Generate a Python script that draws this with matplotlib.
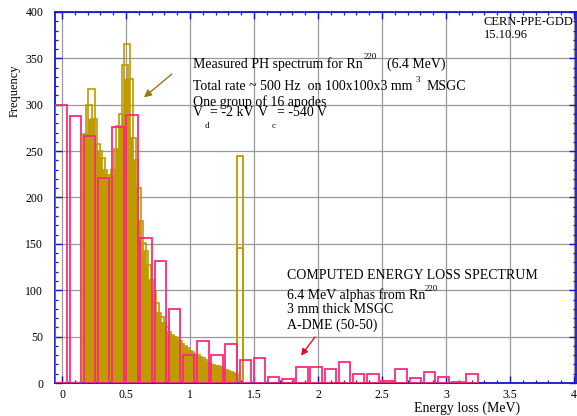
import numpy as np
import matplotlib
matplotlib.use("Agg")
import matplotlib.pyplot as plt
from matplotlib.ticker import MultipleLocator

plt.rcParams['font.family'] = ['Liberation Serif', 'DejaVu Serif']

# computed energy loss spectrum (pink boxes), bins of ~0.11 MeV
pink_start = -0.052
pink_step = 0.1107
pink_counts = [300, 288, 266, 221, 276, 289, 156, 131, 80, 30,
               45, 30, 42, 25, 27, 6, 4, 17, 17, 15,
               23, 10, 10, 2, 15, 5, 12, 7, 1, 10]

# measured PH spectrum (gold boxes)
gold_x = [0.19, 0.21, 0.23, 0.25, 0.27, 0.29, 0.31, 0.33, 0.35, 0.37,
          0.39, 0.41, 0.43, 0.45, 0.47, 0.49, 0.51, 0.53, 0.55, 0.57,
          0.59, 0.61, 0.63, 0.65, 0.67, 0.69, 0.71, 0.73, 0.75, 0.77,
          0.79, 0.81, 0.83, 0.85, 0.87, 0.89, 0.91, 0.93, 0.95, 0.97,
          0.99, 1.01, 1.03, 1.05, 1.07, 1.09, 1.11, 1.13, 1.15, 1.17,
          1.19, 1.21, 1.23, 1.25, 1.27, 1.29, 1.31, 1.33, 1.35]
gold_h = [268, 300, 317, 285, 258, 250, 243, 230, 224, 218,
          222, 230, 252, 277, 290, 343, 366, 328, 264, 240,
          210, 175, 151, 142, 127, 111, 98, 86, 76, 71,
          65, 60, 55, 52, 50, 48, 45, 42, 40, 38,
          35, 33, 31, 30, 28, 27, 25, 22, 20, 19,
          18, 18, 17, 16, 14, 13, 12, 11, 10]
# the isolated spike near 1.4 MeV (two overlaid boxes)
spike_x = [1.39, 1.39]
spike_h = [245, 146]

gold = '#bf9a00'
pink = '#ff2a7a'
blue = '#1515cc'
W, H = 577, 416

fig = plt.figure(figsize=(W / 100, H / 100), dpi=100)
ax = fig.add_axes([55 / W, (H - 383) / H, (576 - 55) / W, (383 - 12) / H])

# dense overlapping boxes look solid up to the lowest of neighbouring tops
gh = np.array(gold_h)
body = np.minimum(gh, np.minimum(np.r_[gh[0], gh[:-1]], np.r_[gh[1:], gh[-1]]))
ax.bar(gold_x, body, width=0.05, color=gold, linewidth=0, zorder=2)
ax.bar(gold_x, gold_h, width=0.05, fill=False, edgecolor=gold, linewidth=1.2, zorder=2)
ax.bar(spike_x, spike_h, width=0.05, fill=False, edgecolor=gold, linewidth=1.3, zorder=2)
ax.plot([-0.05, 0.17], [0.8, 0.8], color='#a07a20', lw=1, zorder=2)

pink_left = pink_start + pink_step * np.arange(len(pink_counts))
ax.bar(pink_left, pink_counts, width=0.09, align='edge', fill=False,
       edgecolor=pink, linewidth=1.3, zorder=3)

ax.set_xlim(-0.0547, 4.016)
ax.set_ylim(0, 400)
ax.xaxis.set_minor_locator(MultipleLocator(0.1))
ax.yaxis.set_major_locator(MultipleLocator(50))
ax.yaxis.set_minor_locator(MultipleLocator(10))
ax.set_xticks([0, 0.5, 1, 1.5, 2, 2.5, 3, 3.5, 4])
ax.set_xticklabels(['0', '0.5', '1', '1.5', '2', '2.5', '3', '3.5', '4'])
ax.grid(which='major', color='#999999', linewidth=0.9)
ax.set_axisbelow(True)
ax.tick_params(which='both', direction='in', top=True, right=True, color=blue,
               labelsize=8.5)
ax.tick_params(which='major', length=5, width=1.0)
ax.tick_params(which='minor', length=2.5, width=0.9)
ax.tick_params(axis='y', pad=8.5)
ax.tick_params(axis='x', pad=4)
for s in ax.spines.values():
    s.set_color(blue)
    s.set_linewidth(1.3)

# arrows
ax.annotate('', xy=(0.623, 306), xytext=(0.875, 335),
            arrowprops=dict(arrowstyle='-|>', color='#9a7a10', lw=1.0, mutation_scale=11))
ax.annotate('', xy=(1.854, 27), xytext=(1.99, 52),
            arrowprops=dict(arrowstyle='-|>', color='#e0102a', lw=1.0, mutation_scale=10))


def put(px, py, s, size=10, **kw):
    fig.text(px / W, 1 - py / H, s, fontsize=size, va='baseline', **kw)


put(484, 25, 'CERN-PPE-GDD', 9)
put(484, 38, '15.10.96', 9)
put(193, 68, 'Measured PH spectrum for Rn')
put(364, 59, '220', 6.5)
put(387, 68, '(6.4 MeV)')
put(193, 90, 'Total rate ~ 500 Hz  on 100x100x3 mm')
put(416, 82, '3', 6.5)
put(427, 90, 'MSGC')
put(193, 106, 'One group of 16 anodes')
put(193, 116, 'V')
put(205, 128, 'd', 6.5)
put(210, 116, '= -2 kV')
put(258, 116, 'V')
put(272, 128, 'c', 6.5)
put(277, 116, '= -540 V')

put(287, 279, 'COMPUTED ENERGY LOSS SPECTRUM')
put(287, 299, '6.4 MeV alphas from Rn')
put(425, 291, '220', 6.5)
put(287, 313, '3 mm thick MSGC')
put(287, 329, 'A-DME (50-50)')

fig.text(15 / W, 1 - 91 / H, 'Frequency', rotation=90, ha='center', va='center', fontsize=9)
fig.text(520 / W, 1 - 412 / H, 'Energy loss (MeV)', ha='right', va='baseline', fontsize=10)

fig.savefig('out.png', dpi=100)
